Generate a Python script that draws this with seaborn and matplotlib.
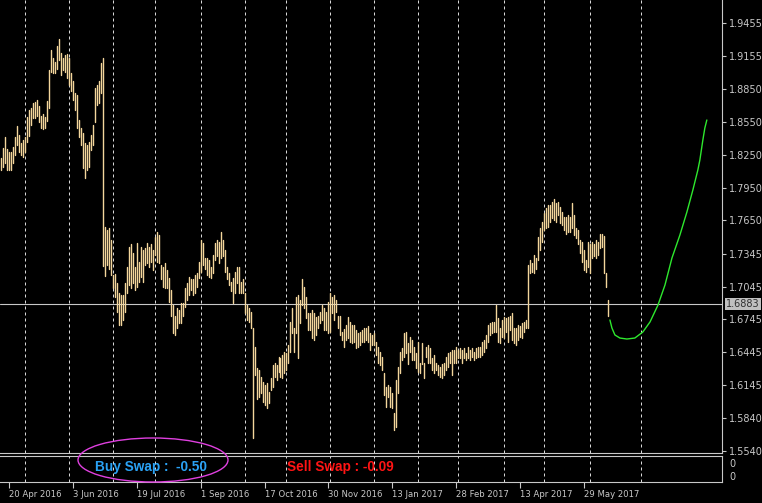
import numpy as np
import pandas as pd
import matplotlib
matplotlib.use("Agg")
import matplotlib.pyplot as plt
import matplotlib.transforms as mtransforms
from matplotlib.patches import Ellipse
import seaborn as sns

# ---------------- data ----------------
start_date = "2016-04-14"          # first daily bar (business days)
highs = [
    1.822, 1.831, 1.841, 1.830, 1.828, 1.828, 1.832, 1.841, 1.851, 1.843,
    1.836, 1.839, 1.841, 1.860, 1.866, 1.868, 1.872, 1.873, 1.875, 1.870,
    1.861, 1.862, 1.860, 1.874, 1.903, 1.921, 1.914, 1.910, 1.925, 1.931,
    1.918, 1.914, 1.916, 1.917, 1.914, 1.900, 1.893, 1.882, 1.880, 1.857,
    1.850, 1.845, 1.836, 1.834, 1.837, 1.843, 1.852, 1.886, 1.889, 1.893,
    1.909, 1.914,
    1.759, 1.756, 1.758, 1.747, 1.715, 1.716, 1.708, 1.699, 1.697, 1.697,
    1.708, 1.722, 1.741, 1.743, 1.735, 1.722, 1.744, 1.727, 1.741, 1.738,
    1.740, 1.744, 1.741, 1.743, 1.738, 1.750, 1.754, 1.752, 1.724, 1.722,
    1.726, 1.720, 1.712, 1.701, 1.688, 1.678, 1.685, 1.683, 1.689, 1.689,
    1.703, 1.708, 1.713, 1.711, 1.711, 1.715, 1.717, 1.727, 1.747, 1.744,
    1.731, 1.731, 1.729, 1.722, 1.733, 1.744, 1.747, 1.745, 1.754, 1.747,
    1.738, 1.722, 1.717, 1.709, 1.712, 1.718, 1.722, 1.722, 1.709, 1.711,
    1.699, 1.688, 1.685, 1.681, 1.667, 1.649, 1.630, 1.628, 1.622, 1.617,
    1.614, 1.616, 1.608, 1.621, 1.633, 1.635, 1.633, 1.640, 1.639, 1.642,
    1.645, 1.644, 1.651, 1.672, 1.685, 1.667, 1.695, 1.697, 1.692, 1.711,
    1.704, 1.695, 1.680, 1.680, 1.683, 1.680, 1.677, 1.678, 1.681, 1.688,
    1.685, 1.681, 1.690, 1.699, 1.695, 1.697, 1.692, 1.678, 1.678, 1.663,
    1.666, 1.669, 1.677, 1.672, 1.669, 1.669, 1.665, 1.662, 1.663, 1.665,
    1.667, 1.667, 1.668, 1.662, 1.660, 1.662, 1.654, 1.649, 1.645, 1.640,
    1.625, 1.613, 1.614, 1.613, 1.607, 1.589, 1.619, 1.631, 1.645, 1.648,
    1.662, 1.663, 1.653, 1.658, 1.656, 1.649, 1.644, 1.654, 1.635, 1.653,
    1.635, 1.649, 1.651, 1.648, 1.639, 1.642, 1.635, 1.633, 1.631, 1.634,
    1.635, 1.640, 1.644, 1.645, 1.646, 1.646, 1.649, 1.646, 1.648, 1.646,
    1.648, 1.644, 1.649, 1.646, 1.648, 1.645, 1.648, 1.649, 1.649, 1.654,
    1.656, 1.660, 1.669, 1.671, 1.672, 1.672, 1.688, 1.676, 1.667, 1.674,
    1.677, 1.676, 1.677, 1.678, 1.680, 1.667, 1.667, 1.669, 1.668, 1.671,
    1.672, 1.674, 1.724, 1.729, 1.726, 1.733, 1.731, 1.750, 1.758, 1.764,
    1.772, 1.776, 1.779, 1.779, 1.782, 1.785, 1.781, 1.782, 1.777, 1.773,
    1.768, 1.768, 1.770, 1.768, 1.781, 1.770, 1.758, 1.756, 1.747, 1.745,
    1.738, 1.729, 1.745, 1.743, 1.745, 1.743, 1.747, 1.745, 1.753, 1.753,
    1.751, 1.717, 1.692,
]
lows = [
    1.811, 1.814, 1.818, 1.811, 1.811, 1.811, 1.818, 1.825, 1.834, 1.828,
    1.825, 1.823, 1.828, 1.837, 1.842, 1.852, 1.859, 1.859, 1.861, 1.855,
    1.850, 1.849, 1.850, 1.856, 1.868, 1.901, 1.900, 1.900, 1.904, 1.912,
    1.898, 1.903, 1.901, 1.895, 1.889, 1.883, 1.875, 1.866, 1.850, 1.841,
    1.834, 1.813, 1.804, 1.811, 1.814, 1.829, 1.834, 1.855, 1.871, 1.872,
    1.882, 1.723,
    1.714, 1.724, 1.721, 1.715, 1.703, 1.695, 1.681, 1.669, 1.669, 1.674,
    1.681, 1.699, 1.706, 1.703, 1.708, 1.701, 1.704, 1.709, 1.713, 1.709,
    1.724, 1.726, 1.722, 1.727, 1.720, 1.733, 1.727, 1.726, 1.711, 1.704,
    1.703, 1.703, 1.690, 1.678, 1.662, 1.660, 1.667, 1.671, 1.671, 1.678,
    1.686, 1.692, 1.697, 1.701, 1.697, 1.699, 1.704, 1.712, 1.718, 1.724,
    1.721, 1.715, 1.713, 1.712, 1.717, 1.729, 1.732, 1.726, 1.731, 1.732,
    1.718, 1.711, 1.706, 1.700, 1.689, 1.699, 1.708, 1.699, 1.699, 1.699,
    1.680, 1.674, 1.672, 1.667, 1.566, 1.624, 1.602, 1.603, 1.607, 1.599,
    1.596, 1.593, 1.598, 1.610, 1.613, 1.622, 1.619, 1.626, 1.622, 1.621,
    1.625, 1.628, 1.635, 1.645, 1.662, 1.645, 1.662, 1.639, 1.671, 1.688,
    1.685, 1.676, 1.665, 1.665, 1.657, 1.656, 1.660, 1.667, 1.671, 1.674,
    1.665, 1.665, 1.662, 1.663, 1.680, 1.674, 1.681, 1.667, 1.660, 1.656,
    1.649, 1.656, 1.657, 1.654, 1.653, 1.654, 1.648, 1.649, 1.651, 1.654,
    1.654, 1.656, 1.654, 1.646, 1.651, 1.651, 1.642, 1.635, 1.633, 1.628,
    1.605, 1.594, 1.603, 1.594, 1.593, 1.573, 1.576, 1.607, 1.625, 1.637,
    1.640, 1.644, 1.634, 1.645, 1.637, 1.637, 1.630, 1.626, 1.625, 1.634,
    1.621, 1.640, 1.635, 1.635, 1.628, 1.625, 1.628, 1.624, 1.622, 1.621,
    1.624, 1.628, 1.631, 1.635, 1.624, 1.635, 1.635, 1.639, 1.639, 1.635,
    1.639, 1.637, 1.639, 1.637, 1.640, 1.637, 1.639, 1.640, 1.640, 1.642,
    1.645, 1.648, 1.654, 1.660, 1.662, 1.663, 1.663, 1.654, 1.653, 1.658,
    1.657, 1.663, 1.654, 1.665, 1.656, 1.653, 1.651, 1.656, 1.658, 1.657,
    1.663, 1.667, 1.667, 1.717, 1.718, 1.717, 1.721, 1.729, 1.738, 1.745,
    1.756, 1.758, 1.759, 1.764, 1.767, 1.765, 1.764, 1.770, 1.763, 1.761,
    1.756, 1.753, 1.754, 1.754, 1.758, 1.752, 1.749, 1.743, 1.735, 1.727,
    1.720, 1.718, 1.722, 1.717, 1.731, 1.732, 1.731, 1.733, 1.740, 1.741,
    1.717, 1.704, 1.678,
]

# projection curve: bars ahead of the last bar, and its prices
proj_ahead = [1.2, 2.2, 3.7, 6.2, 9.7, 13.7, 17.7, 21.3, 25.3, 28.8,
              32.3, 36.3, 39.8, 42.8, 45.3, 46.3, 47.8, 48.8, 49.8]
proj_price = [1.6739, 1.6666, 1.6602, 1.6574, 1.6565, 1.6574, 1.6629, 1.6721,
              1.6876, 1.7059, 1.7306, 1.7517, 1.7727, 1.7929, 1.8112, 1.8203,
              1.8386, 1.8496, 1.8569]

current_price = 1.6883
price_ticks = [1.9455, 1.9155, 1.8850, 1.8550, 1.8250, 1.7950, 1.7650,
               1.7345, 1.7045, 1.6745, 1.6445, 1.6145, 1.5840, 1.5540]
date_labels = ["2016-04-20", "2016-06-03", "2016-07-19", "2016-09-01",
               "2016-10-17", "2016-11-30", "2017-01-13", "2017-02-28",
               "2017-04-13", "2017-05-29"]
future_separator_days = [17]       # 1 Jul 2017, calendar days after last bar
buy_swap = "-0.50"
sell_swap = "-0.09"

# ---------------- styling ----------------
sns.set_theme(style="dark", rc={"axes.facecolor": "black",
                                "figure.facecolor": "black",
                                "axes.grid": False})
plt.rcParams["font.family"] = ["DejaVu Sans"]

BAR_C = "#f3d69c"
AX_C = "#c8c8c8"
GRID_C = "#d8d8d8"

W, H = 762, 503
fig = plt.figure(figsize=(W / 100, H / 100), dpi=100, facecolor="black")


def frame(x0, y0, x1, y1):
    return [x0 / W, 1 - y1 / H, (x1 - x0) / W, (y1 - y0) / H]


ax = fig.add_axes(frame(0, 0, 722, 453))
axb = fig.add_axes(frame(0, 456, 722, 482), sharex=ax)
for a in (ax, axb):
    a.set_facecolor("black")

n = len(highs)
dates = pd.bdate_range(start_date, periods=n)
idx = np.arange(n)

# month separators
seps = [i for i in range(1, n) if dates[i].month != dates[i - 1].month]
seps += [n - 1 + d for d in future_separator_days]
for s in seps:
    for a in (ax, axb):
        a.axvline(s, color=GRID_C, lw=0.72, dashes=(3, 3), zorder=1)

# HL bars through seaborn (one unit per bar)
bars = pd.DataFrame({
    "x": np.repeat(idx, 2),
    "price": np.ravel(np.column_stack([lows, highs])),
    "bar": np.repeat(idx, 2),
})
sns.lineplot(data=bars, x="x", y="price", units="bar", estimator=None,
             sort=False, color=BAR_C, lw=1.0, ax=ax, legend=False, zorder=3)

# projection curve
proj = pd.DataFrame({"x": (n - 1) + np.array(proj_ahead), "price": proj_price})
sns.lineplot(data=proj, x="x", y="price", sort=False, color="#2ee82e",
             lw=1.0, ax=ax, legend=False, zorder=4)

# current price line
ax.axhline(current_price, color=AX_C, lw=0.8, zorder=2)

ax.set_xlim(-0.66, 361.4)
ax.set_ylim(1.5522, 1.9667)
ax.set_xlabel("")
ax.set_ylabel("")

ax.yaxis.tick_right()
ax.set_yticks(price_ticks)
ax.set_yticklabels([f"{t:.4f}" for t in price_ticks])
ax.tick_params(axis="y", colors=AX_C, labelcolor=AX_C, length=3, width=0.8,
               direction="out", labelsize=7, pad=2, right=True, left=False)
ax.tick_params(axis="x", bottom=False, labelbottom=False)
for side in ("left", "top"):
    ax.spines[side].set_visible(False)
for side in ("right", "bottom"):
    ax.spines[side].set_color(AX_C)
    ax.spines[side].set_linewidth(0.8)

ax.annotate(f"{current_price:.4f}", xy=(1, current_price),
            xycoords=ax.get_yaxis_transform(), xytext=(4, 0),
            textcoords="offset pixels", ha="left", va="center", fontsize=7,
            color="#303030", zorder=10, annotation_clip=False,
            bbox=dict(boxstyle="square,pad=0.12", fc="#c0c0c0", ec="none"))

# bottom panel
axb.set_ylim(0, 1)
axb.yaxis.tick_right()
axb.set_yticks([0.73, 0.23])
axb.set_yticklabels(["0", "0"])
axb.tick_params(axis="y", colors=AX_C, labelcolor=AX_C, length=0,
                labelsize=7, pad=5, right=True, left=False)
axb.spines["left"].set_visible(False)
for side in ("right", "bottom", "top"):
    axb.spines[side].set_color(AX_C)
    axb.spines[side].set_linewidth(0.8)

label_idx = [int(dates.get_loc(pd.Timestamp(d))) for d in date_labels]
axb.set_xticks(label_idx)
axb.set_xticklabels([f"{pd.Timestamp(d).day} {pd.Timestamp(d):%b %Y}"
                     for d in date_labels])
axb.tick_params(axis="x", colors=AX_C, labelcolor=AX_C, length=4, width=0.8,
                direction="out", labelsize=6.1, pad=2, bottom=True)
for lbl in axb.get_xticklabels():
    lbl.set_ha("left")
axb.set_xlabel("")
axb.set_ylabel("")

fig.text(95 / W, 1 - 467 / H, f"Buy Swap :  {buy_swap}", color="#2aa2f5",
         fontsize=9.8, fontweight="bold", family=["Liberation Sans"],
         ha="left", va="center")
fig.text(287 / W, 1 - 467 / H, f"Sell Swap : {sell_swap}", color="#ff1414",
         fontsize=9.8, fontweight="bold", family=["Liberation Sans"],
         ha="left", va="center")
fig.add_artist(Ellipse((153 / W, 1 - 460 / H), 150 / W, 44 / H,
                       transform=fig.transFigure, fill=False,
                       ec="#e040e0", lw=1.0))

fig.savefig("out.png", dpi=100, facecolor="black")
